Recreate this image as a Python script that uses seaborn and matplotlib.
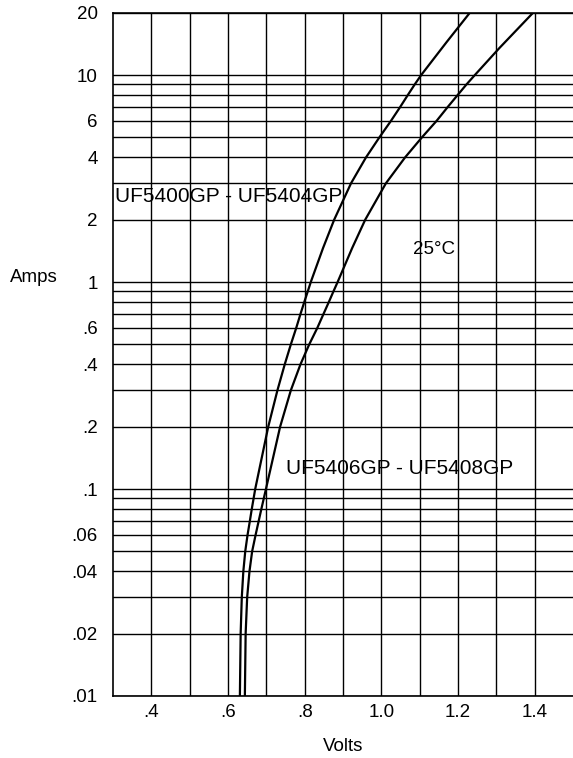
import numpy as np
import matplotlib
matplotlib.use("Agg")
import matplotlib.pyplot as plt
import seaborn as sns

# forward characteristics (volts, amps)
uf5400_volts = [0.631, 0.633, 0.636, 0.640, 0.645, 0.651, 0.657, 0.662, 0.671,
                0.705, 0.729, 0.748, 0.764, 0.778, 0.789, 0.799, 0.808, 0.816,
                0.848, 0.877, 0.921, 0.960, 0.995, 1.025, 1.049, 1.069, 1.087,
                1.104, 1.170, 1.231]
uf5400_amps = [0.01, 0.02, 0.03, 0.04, 0.05, 0.06, 0.07, 0.08, 0.1,
               0.2, 0.3, 0.4, 0.5, 0.6, 0.7, 0.8, 0.9, 1.0,
               1.46, 2, 3, 4, 5, 6, 7, 8, 9,
               10, 14.4, 20]

uf5406_volts = [0.644, 0.646, 0.650, 0.656, 0.663, 0.672, 0.680, 0.687, 0.699,
                0.736, 0.764, 0.789, 0.812, 0.833, 0.849, 0.863, 0.875, 0.886,
                0.924, 0.958, 1.012, 1.062, 1.106, 1.144, 1.173, 1.199, 1.222,
                1.244, 1.308, 1.396]
uf5406_amps = [0.01, 0.02, 0.03, 0.04, 0.05, 0.06, 0.07, 0.08, 0.1,
               0.2, 0.3, 0.4, 0.5, 0.6, 0.7, 0.8, 0.9, 1.0,
               1.46, 2, 3, 4, 5, 6, 7, 8, 9,
               10, 13.5, 20]

x_grid = [0.4, 0.5, 0.6, 0.7, 0.8, 0.9, 1.0, 1.1, 1.2, 1.3, 1.4]
x_labels = [".4", "", ".6", "", ".8", "", "1.0", "", "1.2", "", "1.4"]

y_grid = [0.01, 0.02, 0.03, 0.04, 0.05, 0.06, 0.07, 0.08, 0.09,
          0.1, 0.2, 0.3, 0.4, 0.5, 0.6, 0.7, 0.8, 0.9,
          1, 2, 3, 4, 5, 6, 7, 8, 9, 10, 20]
y_labels = [".01", ".02", "", ".04", "", ".06", "", "", "",
            ".1", ".2", "", ".4", "", ".6", "", "", "",
            "1", "2", "", "4", "", "6", "", "", "", "10", "20"]

sns.set_style("white")
plt.rcParams['font.family'] = ['Liberation Sans', 'DejaVu Sans']
plt.rcParams['text.color'] = 'black'
plt.rcParams['axes.labelcolor'] = 'black'

fig = plt.figure(figsize=(5.73, 7.58), dpi=100)
ax = fig.add_axes([113 / 573, 62 / 758, 460 / 573, 683.3 / 758])

sns.lineplot(x=uf5400_volts, y=uf5400_amps, ax=ax, color="black", lw=1.6,
             sort=False, estimator=None)
sns.lineplot(x=uf5406_volts, y=uf5406_amps, ax=ax, color="black", lw=1.6,
             sort=False, estimator=None)

ax.set_yscale("log")
ax.set_xlim(0.3, 1.5)
ax.set_ylim(0.01, 20)

ax.set_xticks(x_grid)
ax.set_xticklabels(x_labels)
ax.set_yticks(y_grid)
ax.set_yticklabels(y_labels)
ax.minorticks_off()
ax.tick_params(axis="both", length=0, labelsize=13.5, colors="black")
ax.tick_params(axis="y", pad=11)
ax.tick_params(axis="x", pad=6)
ax.grid(True, color="black", lw=1.0)

for side in ["left", "bottom", "top"]:
    ax.spines[side].set_color("black")
    ax.spines[side].set_linewidth(1.2)
ax.spines["right"].set_visible(False)

ax.set_xlabel("Volts", fontsize=13.5, labelpad=12, color="black")
ax.set_ylabel("")
fig.text(10 / 573, 1 - 278 / 758, "Amps", fontsize=13.5, va="center", ha="left",
         color="black")

ax.text(0.304, 2.58, "UF5400GP - UF5404GP", fontsize=15, va="center", ha="left",
        color="black")
ax.text(0.751, 0.1257, "UF5406GP - UF5408GP", fontsize=15, va="center", ha="left",
        color="black")
ax.text(1.082, 1.43, "25°C", fontsize=13.5, va="center", ha="left", color="black")

fig.savefig("out.png", dpi=100)
